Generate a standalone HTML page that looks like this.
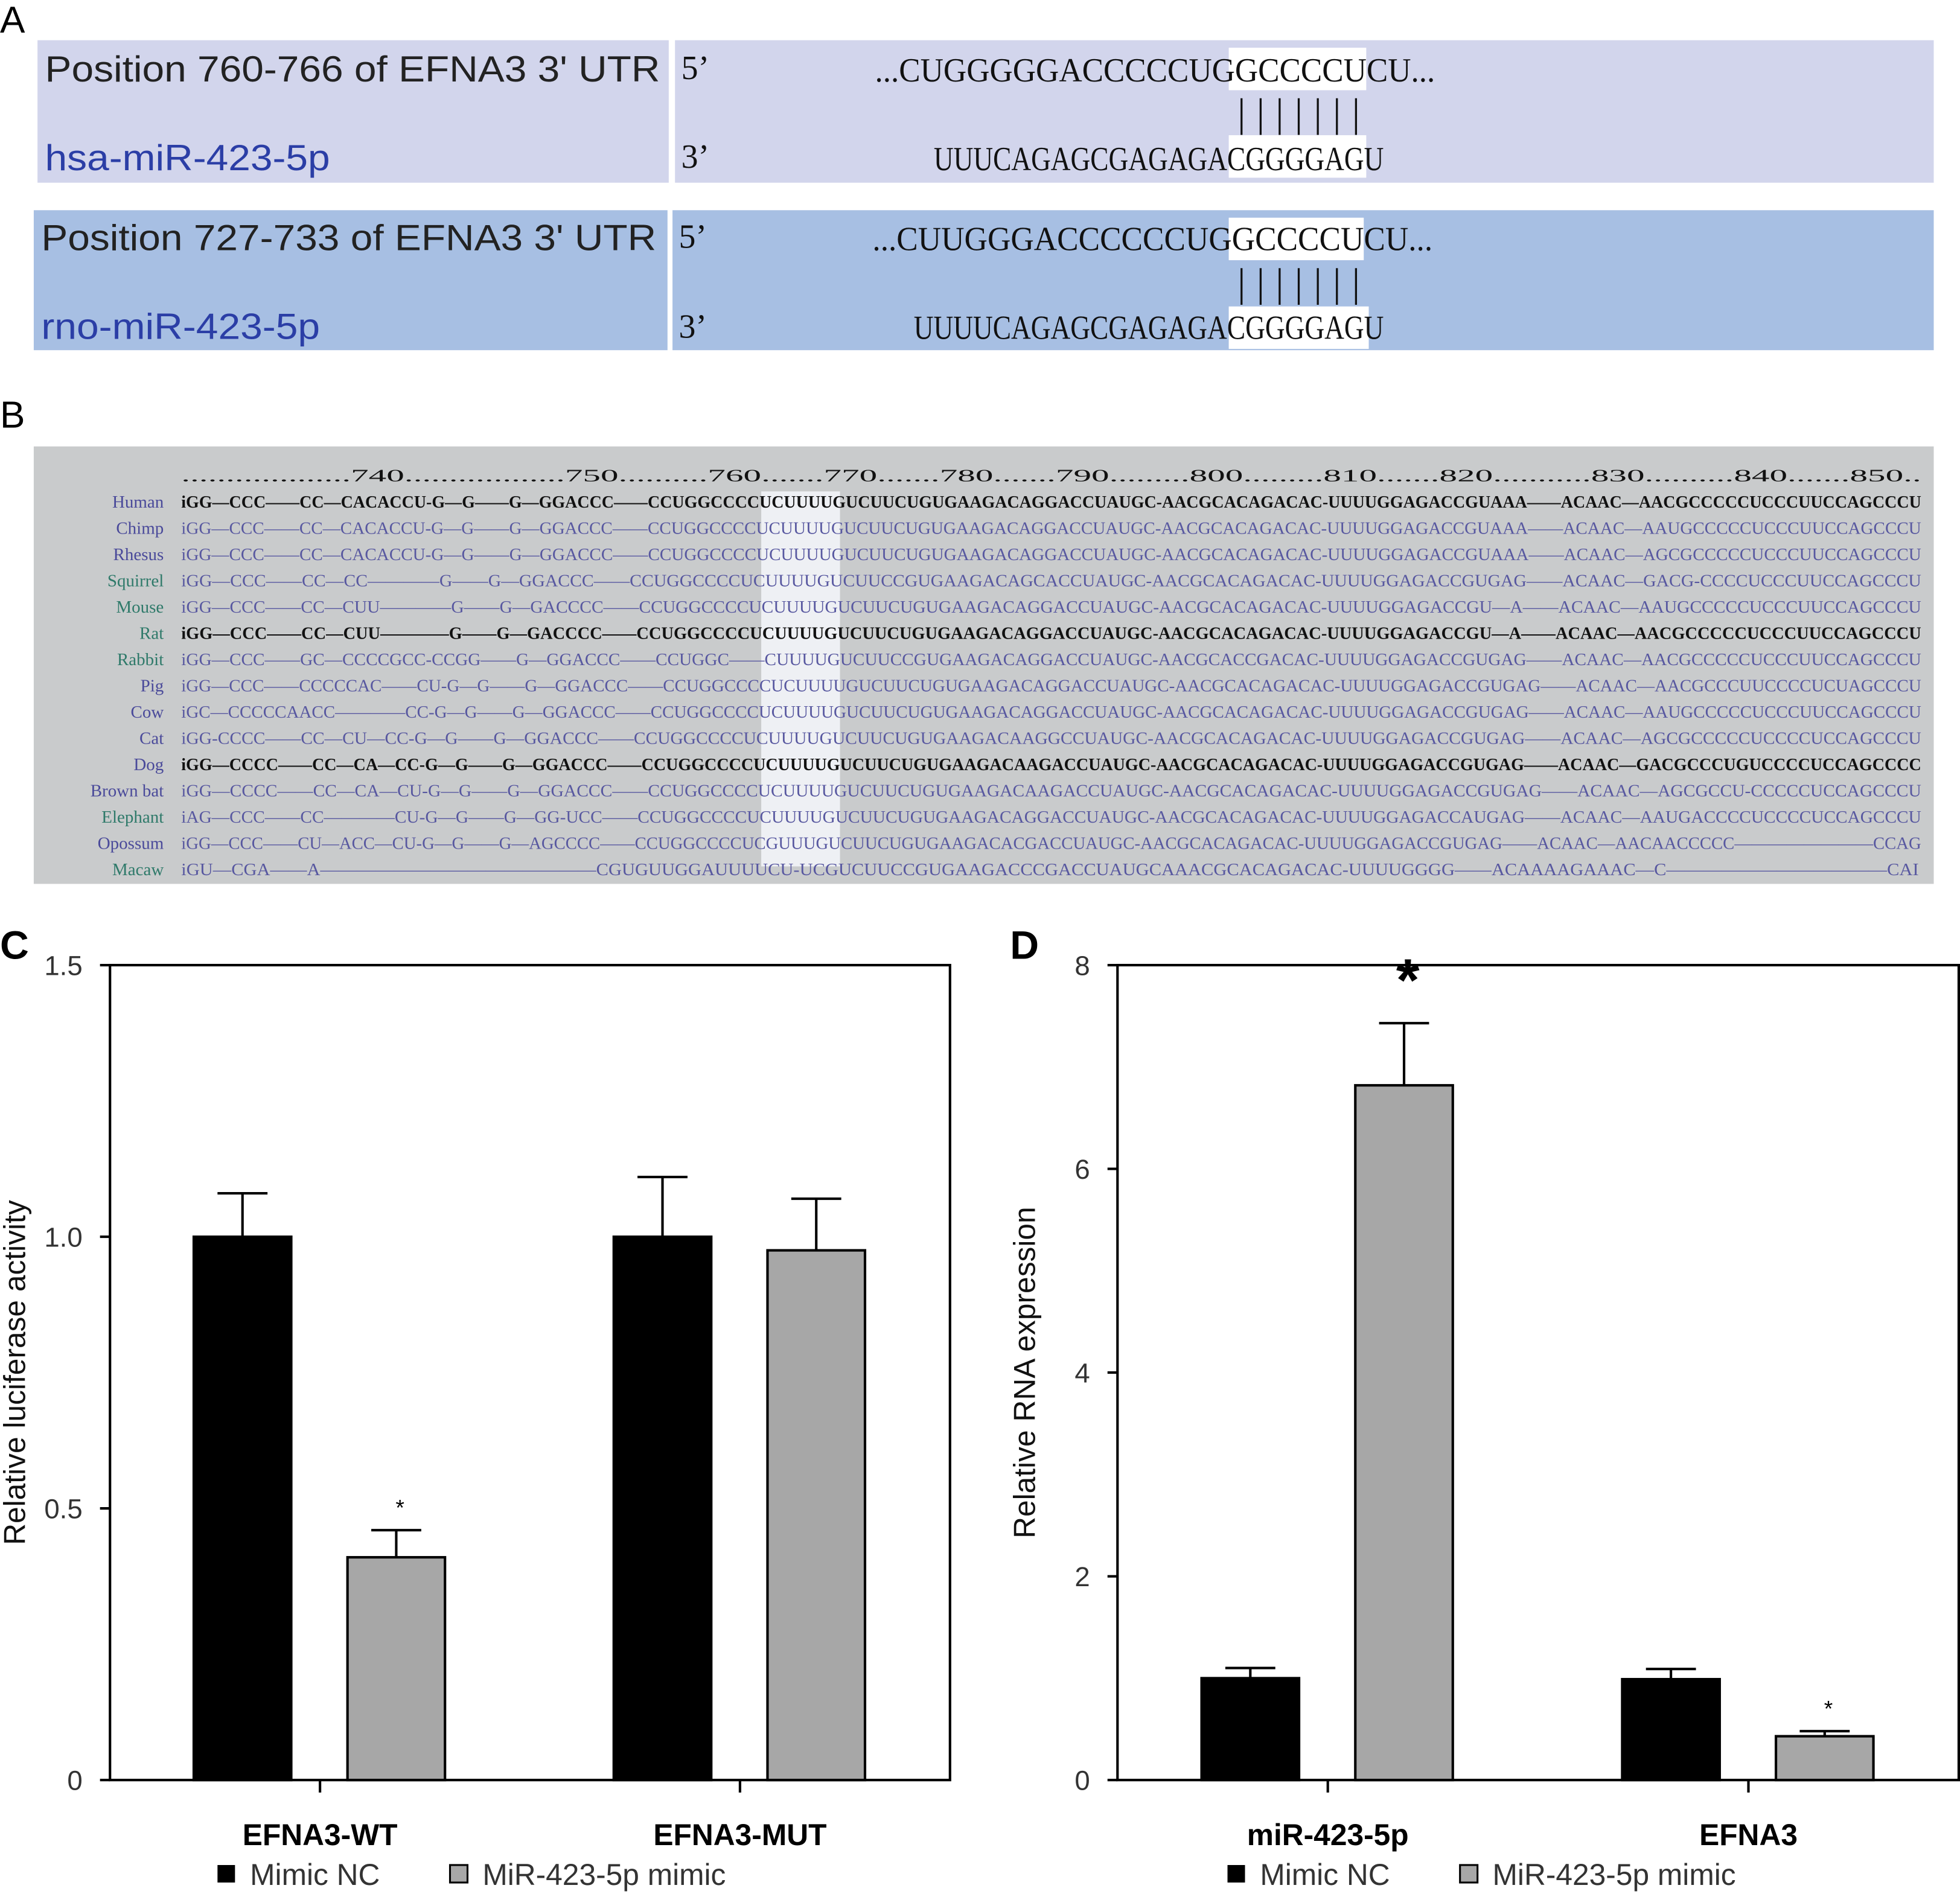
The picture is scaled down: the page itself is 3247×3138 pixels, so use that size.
<!DOCTYPE html>
<html><head><meta charset="utf-8"><style>
html,body{margin:0;padding:0;background:#fff;width:3247px;height:3138px;overflow:hidden}
svg{display:block}
</style></head><body>
<svg width="3247" height="3138" viewBox="0 0 1568 1515" xmlns="http://www.w3.org/2000/svg" font-family="Liberation Sans, sans-serif">
<g>
<text x="0" y="26" font-size="30">A</text>
<rect x="30" y="32" width="505" height="114" fill="#d2d5ec"/>
<rect x="540" y="32" width="1007" height="114" fill="#d2d5ec"/>
<rect x="27" y="168" width="507" height="112" fill="#a7bfe3"/>
<rect x="538" y="168" width="1009" height="112" fill="#a7bfe3"/>
<text x="36" y="65" font-size="29" fill="#222" textLength="492" lengthAdjust="spacingAndGlyphs">Position 760-766 of EFNA3 3' UTR</text>
<text x="36" y="136" font-size="29" fill="#2b3ea6" textLength="228" lengthAdjust="spacingAndGlyphs">hsa-miR-423-5p</text>
<text x="33" y="200" font-size="29" fill="#222" textLength="492" lengthAdjust="spacingAndGlyphs">Position 727-733 of EFNA3 3' UTR</text>
<text x="33" y="271" font-size="29" fill="#2b3ea6" textLength="223" lengthAdjust="spacingAndGlyphs">rno-miR-423-5p</text>
<g font-family="Liberation Serif, serif" font-size="27" fill="#111">
<text x="545" y="63">5’</text><text x="545" y="134">3’</text>
<text x="543" y="198">5’</text><text x="543" y="270">3’</text>
<rect x="983" y="38" width="110" height="34" fill="#fff"/>
<rect x="983" y="108" width="110" height="34" fill="#fff"/>
<rect x="983" y="174" width="108" height="34" fill="#fff"/>
<rect x="983" y="245" width="112" height="34" fill="#fff"/>
<text x="700" y="65" textLength="448" lengthAdjust="spacingAndGlyphs">...CUGGGGGACCCCCUGGCCCCUCU...</text>
<text x="990" y="101" textLength="98" lengthAdjust="spacing" font-size="32">|||||||</text>
<text x="747" y="136" textLength="360" lengthAdjust="spacingAndGlyphs">UUUCAGAGCGAGAGACGGGGAGU</text>
<text x="698" y="200" textLength="448" lengthAdjust="spacingAndGlyphs">...CUUGGGACCCCCCUGGCCCCUCU...</text>
<text x="990" y="237" textLength="98" lengthAdjust="spacing" font-size="32">|||||||</text>
<text x="731" y="271" textLength="376" lengthAdjust="spacingAndGlyphs">UUUUCAGAGCGAGAGACGGGGAGU</text>
</g>
</g>
<g>
<text x="0" y="342" font-size="30">B</text>
<rect x="27" y="357" width="1520" height="350" fill="#c9cbcc"/>
<rect x="609" y="393" width="63" height="300" fill="#eef0f4"/>
<g font-family="Liberation Serif, serif" font-size="14" id="aln"></g>
</g>
<g id="pc"></g>
<g id="pd"></g>
</svg>
<script>
const NS='http://www.w3.org/2000/svg';
function mk(p,t,a,txt){const e=document.createElementNS(NS,t);for(const k in a)e.setAttribute(k,a[k]);if(txt!==undefined)e.textContent=txt;p.appendChild(e);return e;}
const species=["Human","Chimp","Rhesus","Squirrel","Mouse","Rat","Rabbit","Pig","Cow","Cat","Dog","Brown bat","Elephant","Opossum","Macaw"];
const seqs=[
"iGG—CCC——CC—CACACCU-G—G——G—GGACCC——CCUGGCCCCUCUUUUGUCUUCUGUGAAGACAGGACCUAUGC-AACGCACAGACAC-UUUUGGAGACCGUAAA——ACAAC—AACGCCCCCUCCCUUCCAGCCCU",
"iGG—CCC——CC—CACACCU-G—G——G—GGACCC——CCUGGCCCCUCUUUUGUCUUCUGUGAAGACAGGACCUAUGC-AACGCACAGACAC-UUUUGGAGACCGUAAA——ACAAC—AAUGCCCCCUCCCUUCCAGCCCU",
"iGG—CCC——CC—CACACCU-G—G——G—GGACCC——CCUGGCCCCUCUUUUGUCUUCUGUGAAGACAGGACCUAUGC-AACGCACAGACAC-UUUUGGAGACCGUAAA——ACAAC—AGCGCCCCCUCCCUUCCAGCCCU",
"iGG—CCC——CC—CC————G——G—GGACCC——CCUGGCCCCUCUUUUGUCUUCCGUGAAGACAGCACCUAUGC-AACGCACAGACAC-UUUUGGAGACCGUGAG——ACAAC—GACG-CCCCUCCCUUCCAGCCCU",
"iGG—CCC——CC—CUU————G——G—GACCCC——CCUGGCCCCUCUUUUGUCUUCUGUGAAGACAGGACCUAUGC-AACGCACAGACAC-UUUUGGAGACCGU—A——ACAAC—AAUGCCCCCUCCCUUCCAGCCCU",
"iGG—CCC——CC—CUU————G——G—GACCCC——CCUGGCCCCUCUUUUGUCUUCUGUGAAGACAGGACCUAUGC-AACGCACAGACAC-UUUUGGAGACCGU—A——ACAAC—AACGCCCCCUCCCUUCCAGCCCU",
"iGG—CCC——GC—CCCCGCC-CCGG——G—GGACCC——CCUGGC——CUUUUGUCUUCCGUGAAGACAGGACCUAUGC-AACGCACCGACAC-UUUUGGAGACCGUGAG——ACAAC—AACGCCCCCUCCCUUCCAGCCCU",
"iGG—CCC——CCCCCAC——CU-G—G——G—GGACCC——CCUGGCCCCUCUUUUGUCUUCUGUGAAGACAGGACCUAUGC-AACGCACAGACAC-UUUUGGAGACCGUGAG——ACAAC—AACGCCCUUCCCCUCUAGCCCU",
"iGC—CCCCCAACC————CC-G—G——G—GGACCC——CCUGGCCCCUCUUUUGUCUUCUGUGAAGACAGGACCUAUGC-AACGCACAGACAC-UUUUGGAGACCGUGAG——ACAAC—AAUGCCCCCUCCCUUCCAGCCCU",
"iGG-CCCC——CC—CU—CC-G—G——G—GGACCC——CCUGGCCCCUCUUUUGUCUUCUGUGAAGACAAGGCCUAUGC-AACGCACAGACAC-UUUUGGAGACCGUGAG——ACAAC—AGCGCCCCCUCCCCUCCAGCCCU",
"iGG—CCCC——CC—CA—CC-G—G——G—GGACCC——CCUGGCCCCUCUUUUGUCUUCUGUGAAGACAAGACCUAUGC-AACGCACAGACAC-UUUUGGAGACCGUGAG——ACAAC—GACGCCCUGUCCCCUCCAGCCCC",
"iGG—CCCC——CC—CA—CU-G—G——G—GGACCC——CCUGGCCCCUCUUUUGUCUUCUGUGAAGACAAGACCUAUGC-AACGCACAGACAC-UUUUGGAGACCGUGAG——ACAAC—AGCGCCU-CCCCCUCCAGCCCU",
"iAG—CCC——CC————CU-G—G——G—GG-UCC——CCUGGCCCCUCUUUUGUCUUCUGUGAAGACAGGACCUAUGC-AACGCACAGACAC-UUUUGGAGACCAUGAG——ACAAC—AAUGACCCCUCCCCUCCAGCCCU",
"iGG—CCC——CU—ACC—CU-G—G——G—AGCCCC——CCUGGCCCCUCGUUUGUCUUCUGUGAAGACACGACCUAUGC-AACGCACAGACAC-UUUUGGAGACCGUGAG——ACAAC—AACAACCCCC————————CCAG",
"iGU—CGA——A———————————————CGUGUUGGAUUUUCU-UCGUCUUCCGUGAAGACCCGACCUAUGCAAACGCACAGACAC-UUUUGGGG——ACAAAAGAAAC—C————————————CAI"];
const labelColors=["#4a4a9a","#4a4a9a","#4a4a9a","#2f7a6a","#2f7a6a","#2f7a6a","#2f7a6a","#4a4a9a","#4a4a9a","#4a4a9a","#4a4a9a","#4a4a9a","#2f7a6a","#4a4a9a","#2f7a6a"];
const blackRows=[0,5,10];
const aln=document.getElementById('aln');
let hdr=mk(aln,'text',{x:145,y:385,textLength:1392,lengthAdjust:'spacingAndGlyphs',fill:'#111'},'...................740..................750..........760.......770.......780.......790.........800.........810.......820...........830..........840.......850..');


species.forEach((s,i)=>{
  const y=406+i*21;
  const l=mk(aln,'text',{x:131,y:y,'text-anchor':'end',fill:labelColors[i]},s);
  
  
  const blk=blackRows.includes(i);
  const t=mk(aln,'text',{x:145,y:y,textLength:i==14?1390:1392,lengthAdjust:'spacingAndGlyphs',fill:blk?'#111':'#5858a0','font-weight':blk?'bold':'normal'},seqs[i]);
  
  
});
const cCats=["EFNA3-WT","EFNA3-MUT"];
const cNC=[1.0,1.0];
const cNCerr=[0.08,0.11];
const cMimic=[0.41,0.975];
const cMimicErr=[0.05,0.095];
const cTicks=[0,0.5,1.0,1.5];
const cTickLabels=["0","0.5","1.0","1.5"];
const cSig=["*",""];
const dCats=["miR-423-5p","EFNA3"];
const dNC=[1.0,0.99];
const dNCerr=[0.1,0.1];
const dMimic=[6.82,0.43];
const dMimicErr=[0.61,0.05];
const dTicks=[0,2,4,6,8];
const dTickLabels=["0","2","4","6","8"];
const dSig=["*","*"];
function chart(g,o){
  const y0=1424,y1=772,x0=o.x0,x1=o.x1;
  const Y=v=>y0-(v/o.max)*(y0-y1);
  mk(g,'text',{x:o.lx,y:767,'font-size':32,'font-family':'Liberation Sans, sans-serif','font-weight':'bold'},o.label);
  const ax=mk(g,'rect',{x:x0,y:y1,width:x1-x0,height:y0-y1,fill:'none',stroke:'#000','stroke-width':2});
  
  
  o.ticks.forEach((t,i)=>{
    mk(g,'line',{x1:x0-8,x2:x0,y1:Y(t),y2:Y(t),stroke:'#000','stroke-width':2});
    const tl=mk(g,'text',{x:x0-22,y:Y(t)+8,'text-anchor':'end','font-size':22,fill:'#333'},o.tickLabels[i]);
    
    
  });
  const yt=mk(g,'text',{transform:`translate(${o.tx},1098) rotate(-90)`,'text-anchor':'middle','font-size':24,fill:'#111'},o.title);
  
  
  const gw=(x1-x0)/o.cats.length;
  o.cats.forEach((c,i)=>{
    const cx=x0+gw*(i+0.5);
    mk(g,'line',{x1:cx,x2:cx,y1:y0,y2:y0+10,stroke:'#000','stroke-width':2});
    const cl=mk(g,'text',{x:cx,y:1476,'text-anchor':'middle','font-size':24,'font-weight':'bold'},c);
    
    
    [[o.nc[i],o.ncErr[i],'#000',-101],[o.mi[i],o.miErr[i],'#a7a7a7',22]].forEach(([v,e,col,off],k)=>{
      const bx=cx+off;
      const top=Y(v+e);
      mk(g,'line',{x1:bx+39,x2:bx+39,y1:Y(v),y2:top,stroke:'#000','stroke-width':2});
      mk(g,'line',{x1:bx+19,x2:bx+59,y1:top,y2:top,stroke:'#000','stroke-width':2});
      const b=mk(g,'rect',{x:bx,y:Y(v),width:78,height:y0-Y(v),fill:col,stroke:'#000','stroke-width':2});
      
      
      if(k==1&&o.sig[i]){
        const big=(i==0&&o.bigStar);
        const s=mk(g,'text',{x:bx+42,y:top-(big?-12:12),'text-anchor':'middle','font-size':big?48:18,'font-weight':big?'bold':'normal'},o.sig[i]);
        if(big) s.setAttribute('y',top+14-32);
        
        
      }
    });
  });
  const lg=mk(g,'g',{});
  
  
  mk(lg,'rect',{x:o.legX,y:1492,width:14,height:14,fill:'#000'});
  mk(lg,'text',{x:o.legX+26,y:1508,'font-size':24,fill:'#333'},'Mimic NC');
  mk(lg,'rect',{x:o.legX+186,y:1492,width:14,height:14,fill:'#a7a7a7',stroke:'#000','stroke-width':1.5});
  mk(lg,'text',{x:o.legX+212,y:1508,'font-size':24,fill:'#333'},'MiR-423-5p mimic');
}
chart(document.getElementById('pc'),{x0:88,x1:760,max:1.5,ticks:cTicks,tickLabels:cTickLabels,cats:cCats,nc:cNC,ncErr:cNCerr,mi:cMimic,miErr:cMimicErr,sig:cSig,label:'C',lx:0,tx:20,title:'Relative luciferase activity',legX:174,bigStar:false});
chart(document.getElementById('pd'),{x0:894,x1:1567,max:8,ticks:dTicks,tickLabels:dTickLabels,cats:dCats,nc:dNC,ncErr:dNCerr,mi:dMimic,miErr:dMimicErr,sig:dSig,label:'D',lx:808,tx:828,title:'Relative RNA expression',legX:982,bigStar:true});
</script>
</body></html>
